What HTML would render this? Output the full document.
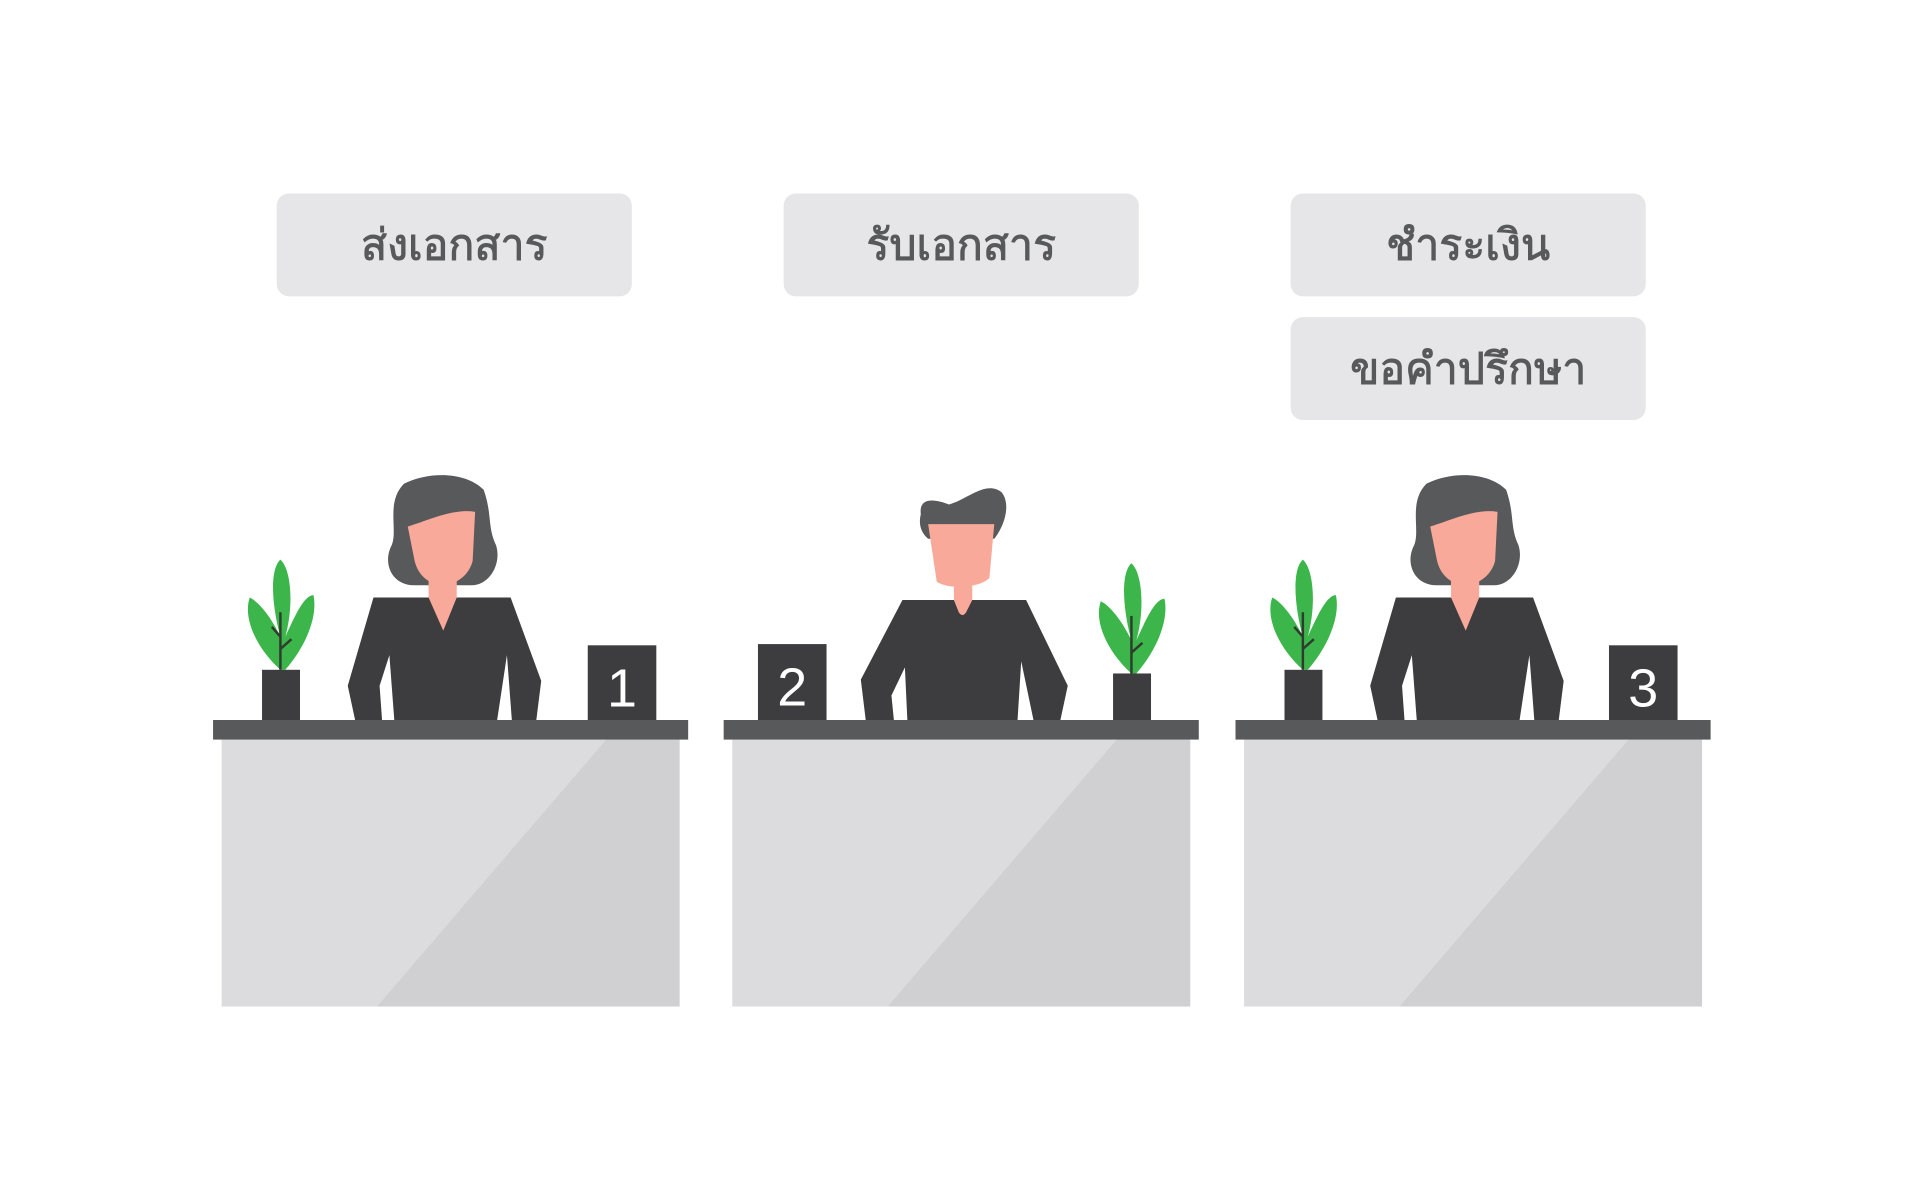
<!DOCTYPE html>
<html><head><meta charset="utf-8">
<style>
html,body{margin:0;padding:0;background:#fff;width:1920px;height:1200px;overflow:hidden}
svg{display:block}
text{font-family:"Liberation Sans","DejaVu Sans",sans-serif}
</style></head><body>
<svg width="1920" height="1200" viewBox="0 0 1568 980" xmlns="http://www.w3.org/2000/svg">
<defs>
<g id="desk">
  <rect x="181" y="604" width="374" height="218" fill="#dcdcde"/>
  <polygon points="495,604 555,604 555,822 308,822" fill="#d0d0d2"/>
  <rect x="174" y="588" width="388" height="16" fill="#58595b"/>
</g>
<g id="plant">
  <path d="M229,547 C210,530 198,505 204,488 C212,492 222,505 229,520 C222,495 220,465 229,457 C238,465 240,495 233,520 C240,505 248,486 256,486 C260,505 248,530 233,547 Z" fill="#3cb54a"/>
  <line x1="229" y1="500" x2="229" y2="547" stroke="#2f3b2f" stroke-width="2"/>
  <line x1="229" y1="530" x2="238" y2="522" stroke="#2f3b2f" stroke-width="2"/>
  <line x1="229" y1="520" x2="222" y2="512" stroke="#2f3b2f" stroke-width="2"/>
  <rect x="214" y="547" width="31" height="41" fill="#3d3d3f"/>
</g>
<g id="woman">
  <path d="M330,395 C350,385 380,385 395,400 C402,420 398,430 405,445 C410,460 400,478 385,478 L338,478 C320,478 312,460 320,445 C325,432 315,410 330,395 Z" fill="#58595b"/>
  <polygon points="350,470 373,470 373,488 350,488" fill="#f9a99a"/>
  <path d="M333,430 C350,425 370,415 388,418 L386,458 C383,470 372,478 360,478 C348,476 340,468 338,455 Z" fill="#f9a99a"/>
  <path d="M332,428 C350,420 372,406 390,414 L390,405 C370,398 345,405 330,418 Z" fill="#58595b"/>
  <polygon points="305,488 417,488 442,556 438,588 418,588 414,535 406,588 322,588 318,535 310,560 312,588 290,588 284,560" fill="#3d3d3f"/>
  <polygon points="350,488 373,488 362,515" fill="#f9a99a"/>
</g>
</defs>

<g fill="#e6e6e8">
  <rect x="226" y="158" width="290" height="84" rx="10"/>
  <rect x="640" y="158" width="290" height="84" rx="10"/>
  <rect x="1054" y="158" width="290" height="84" rx="10"/>
  <rect x="1054" y="259" width="290" height="84" rx="10"/>
</g>
<g fill="#58595b" stroke="#58595b" stroke-width="0.8" font-size="35" text-anchor="middle">
  <text x="371" y="212">ส่งเอกสาร</text>
  <text x="785" y="212">รับเอกสาร</text>
  <text x="1199" y="212">ชำระเงิน</text>
  <text x="1199" y="313">ขอคำปรึกษา</text>
</g>

<use href="#woman"/>
<use href="#plant"/>
<rect x="480" y="527" width="56" height="61" fill="#3d3d3f"/>
<text x="508" y="577" font-size="44" fill="#fff" text-anchor="middle">1</text>
<use href="#desk"/>

<g>
  <path d="M752,420 C750,405 765,408 775,412 C790,408 805,392 818,402 C826,412 820,430 812,440 L758,440 C752,435 750,428 752,420 Z" fill="#58595b"/>
  <rect x="779" y="470" width="15" height="22" fill="#f9a99a"/>
  <path d="M758,428 L812,428 L808,472 C800,480 775,482 765,475 Z" fill="#f9a99a"/>
  <polygon points="737,490 838,490 872,560 866,588 844,588 834,540 831,588 741,588 739,545 728,568 730,588 707,588 703,555" fill="#3d3d3f"/>
  <path d="M779,490 L794,490 L789,500 C787,503 785,503 783,500 Z" fill="#f9a99a"/>
</g>
<g transform="translate(695,3)">
  <path d="M229,547 C210,530 198,505 204,488 C212,492 222,505 229,520 C222,495 220,465 229,457 C238,465 240,495 233,520 C240,505 248,486 256,486 C260,505 248,530 233,547 Z" fill="#3cb54a"/>
  <line x1="229" y1="500" x2="229" y2="547" stroke="#2f3b2f" stroke-width="2"/>
  <line x1="229" y1="530" x2="238" y2="522" stroke="#2f3b2f" stroke-width="2"/>
  <rect x="214" y="547" width="31" height="38" fill="#3d3d3f"/>
</g>
<rect x="619" y="526" width="56" height="62" fill="#3d3d3f"/>
<text x="647" y="576" font-size="44" fill="#fff" text-anchor="middle">2</text>
<use href="#desk" transform="translate(417,0)"/>

<g transform="translate(835,0)">
  <use href="#woman"/>
  <use href="#plant"/>
  <rect x="479" y="527" width="56" height="61" fill="#3d3d3f"/>
  <text x="507" y="577" font-size="44" fill="#fff" text-anchor="middle">3</text>
</g>
<use href="#desk" transform="translate(835,0)"/>
</svg>
</body></html>
